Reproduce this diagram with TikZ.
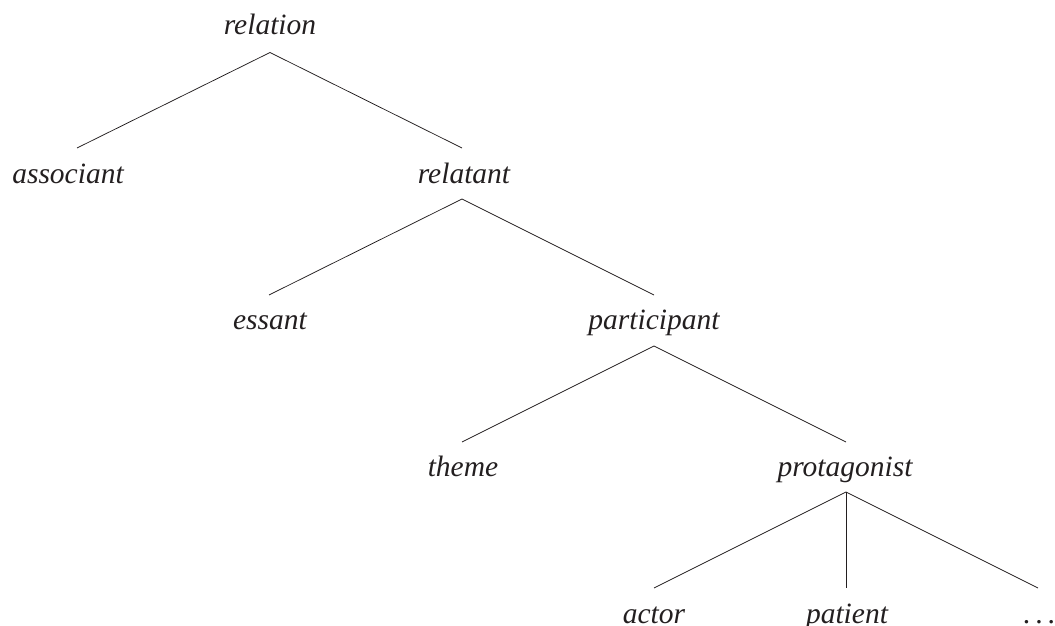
\documentclass[tikz,border=0pt]{standalone}
\usepackage{fontspec}
\setmainfont{Liberation Serif}
\usetikzlibrary{calc}
\definecolor{ink}{HTML}{231F20}
\tikzset{
  lbl/.style={anchor=base, inner sep=0pt, text=ink, font=\fontsize{29.5}{34}\selectfont\itshape},
  edge/.style={draw=ink, line width=0.75pt}
}
\begin{document}
\begin{tikzpicture}[x=1pt, y=-1pt]
\useasboundingbox (0,0) rectangle (1055,626);
% nodes (anchor = baseline)
\node[lbl] (relation)    at (270,35)  {relation};
\node[lbl] (associant)   at (68,183)  {associant};
\node[lbl] (relatant)    at (464,183) {relatant};
\node[lbl] (essant)      at (270,329) {essant};
\node[lbl] (participant) at (654,329) {participant};
\node[lbl] (theme)       at (463,476) {theme};
\node[lbl] (protagonist) at (845,476) {protagonist};
\node[lbl] (actor)       at (654,623) {actor};
\node[lbl] (patient)     at (847,623) {patient};
\node[lbl, font=\fontsize{29.5}{34}\selectfont] (dots) at (1039,623) {.\kern5pt.\kern5pt.};
% connectors
\draw[edge] ($(associant.base)+(9,-35)$) -- ($(relation.base)+(0,17.5)$) -- ($(relatant.base)+(-2,-35)$);
\draw[edge] ($(essant.base)+(-1,-34)$) -- ($(relatant.base)+(-2,16)$) -- ($(participant.base)+(0,-34)$);
\draw[edge] ($(theme.base)+(-1,-34)$) -- ($(participant.base)+(0,17)$) -- ($(protagonist.base)+(1,-34)$);
\draw[edge] ($(actor.base)+(0,-35)$) -- ($(protagonist.base)+(1,16)$) -- ($(dots.base)+(-1,-35)$);
\draw[edge] ($(protagonist.base)+(1,16)$) -- ($(patient.base)+(-1,-35)$);
\end{tikzpicture}
\end{document}
